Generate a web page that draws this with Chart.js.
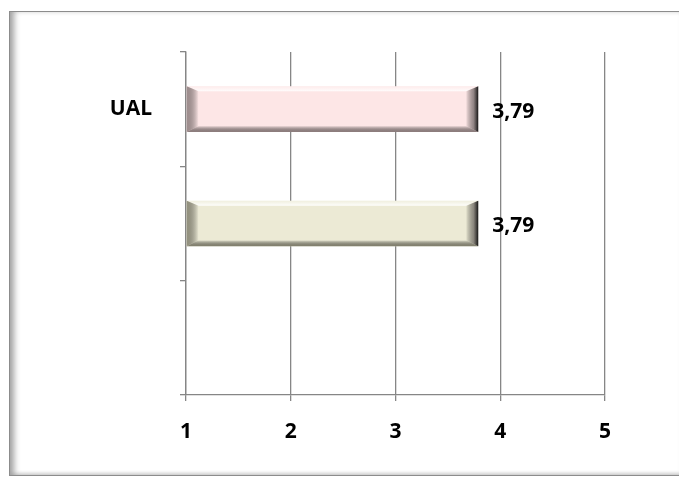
<!DOCTYPE html>
<html>
<head>
<meta charset="utf-8">
<script src="https://cdn.jsdelivr.net/npm/chart.js@4"></script>
<style>
  html, body { margin: 0; padding: 0; background: #fff; overflow: hidden; }
  .frame {
    position: absolute; left: 9px; top: 11px; width: 680px; height: 465px;
    border: 1px solid #8c8c8c; box-sizing: border-box;
    box-shadow: inset 7px 0 6px -3px #a0a0a0, inset -7px 0 6px -3px #c8c8c8, inset 0 -4px 4px -3px #c8c8c8;
  }
  .wrap { position: absolute; left: 0; top: 0; width: 679px; height: 479px; }
</style>
</head>
<body>
<div class="frame"></div>
<div class="wrap"><canvas id="chart"></canvas></div>
<script>
// datos
const categories = ['UAL', '', ''];
const values = [3.79, 3.79, null];
const barColors = ['#fde6e6', '#ecead5'];
const edgeColors = ['#8f7f7f', '#85836f'];
const xTicks = [1, 2, 3, 4, 5];

const labelFont = { family: 'Open Sans', size: 21, weight: 'bold' };

// bisel de las barras, dibujado sobre cada barra
const bevelPlugin = {
  id: 'bevel',
  afterDatasetDraw(chart, args) {
    const ctx = chart.ctx;
    args.meta.data.forEach((bar, i) => {
      if (values[i] == null) return;
      const p = bar.getProps(['x', 'y', 'base', 'height'], true);
      const l = p.base, r = p.x, t = p.y - p.height / 2, b = p.y + p.height / 2;
      const dx = 12, dt = 5, db = 6;
      ctx.save();
      // arriba: brillo
      let g = ctx.createLinearGradient(0, t, 0, t + dt);
      g.addColorStop(0, 'rgba(255,255,255,0.2)');
      g.addColorStop(1, 'rgba(255,255,255,0.9)');
      ctx.fillStyle = g;
      ctx.beginPath();
      ctx.moveTo(l, t); ctx.lineTo(r, t); ctx.lineTo(r - dx, t + dt); ctx.lineTo(l + dx, t + dt);
      ctx.closePath(); ctx.fill();
      // abajo: sombra
      g = ctx.createLinearGradient(0, b - db, 0, b);
      g.addColorStop(0, 'rgba(0,0,0,0.05)');
      g.addColorStop(1, edgeColors[i]);
      ctx.fillStyle = g;
      ctx.beginPath();
      ctx.moveTo(l, b); ctx.lineTo(r, b); ctx.lineTo(r - dx, b - db); ctx.lineTo(l + dx, b - db);
      ctx.closePath(); ctx.fill();
      // izquierda
      g = ctx.createLinearGradient(l, 0, l + dx, 0);
      g.addColorStop(0, edgeColors[i]);
      g.addColorStop(1, 'rgba(0,0,0,0)');
      ctx.fillStyle = g;
      ctx.globalAlpha = 0.85;
      ctx.beginPath();
      ctx.moveTo(l, t); ctx.lineTo(l + dx, t + dt); ctx.lineTo(l + dx, b - db); ctx.lineTo(l, b);
      ctx.closePath(); ctx.fill();
      ctx.globalAlpha = 1;
      // derecha: oscuro
      g = ctx.createLinearGradient(r - dx, 0, r, 0);
      g.addColorStop(0, 'rgba(0,0,0,0.05)');
      g.addColorStop(0.6, 'rgba(60,55,55,0.55)');
      g.addColorStop(1, 'rgba(20,20,20,1)');
      ctx.fillStyle = g;
      ctx.beginPath();
      ctx.moveTo(r, t); ctx.lineTo(r, b); ctx.lineTo(r - dx, b - db); ctx.lineTo(r - dx, t + dt);
      ctx.closePath(); ctx.fill();
      ctx.restore();
    });
  }
};

// etiquetas de valor con coma decimal
const valueLabels = {
  id: 'valueLabels',
  afterDatasetsDraw(chart) {
    const ctx = chart.ctx;
    const meta = chart.getDatasetMeta(0);
    ctx.save();
    ctx.font = 'bold 21px "Open Sans"';
    ctx.fillStyle = '#000';
    ctx.textAlign = 'left';
    ctx.textBaseline = 'middle';
    meta.data.forEach((bar, i) => {
      if (values[i] == null) return;
      ctx.fillText(values[i].toFixed(2).replace('.', ','), bar.x + 14, bar.y + 3);
    });
    ctx.restore();
  }
};

new Chart(document.getElementById('chart'), {
  type: 'bar',
  data: {
    labels: categories,
    datasets: [{
      data: values,
      base: 1,
      backgroundColor: barColors,
      borderWidth: 0,
      barPercentage: 0.4,
      categoryPercentage: 1
    }]
  },
  options: {
    indexAxis: 'y',
    responsive: true,
    maintainAspectRatio: false,
    animation: false,
    layout: { padding: { left: 0, right: 74, top: 52, bottom: 0 } },
    plugins: {
      legend: { display: false },
      tooltip: { enabled: false }
    },
    scales: {
      x: {
        min: 1,
        max: 5,
        afterBuildTicks: (scale) => { scale.ticks = xTicks.map(v => ({ value: v })); },
        afterFit: (scale) => { scale.height = 84; },
        ticks: { color: '#000', font: labelFont, padding: 18 },
        grid: { color: '#868686', lineWidth: 1.3, tickLength: 6, drawTicks: true },
        border: { color: '#868686', width: 1.3 }
      },
      y: {
        afterFit: (scale) => { scale.width = 186; },
        ticks: { color: '#000', font: labelFont, padding: 28 },
        grid: { offset: true, drawOnChartArea: false, color: '#868686', lineWidth: 1.3, tickLength: 6 },
        border: { color: '#868686', width: 1.3 }
      }
    }
  },
  plugins: [bevelPlugin, valueLabels]
});
</script>
</body>
</html>
